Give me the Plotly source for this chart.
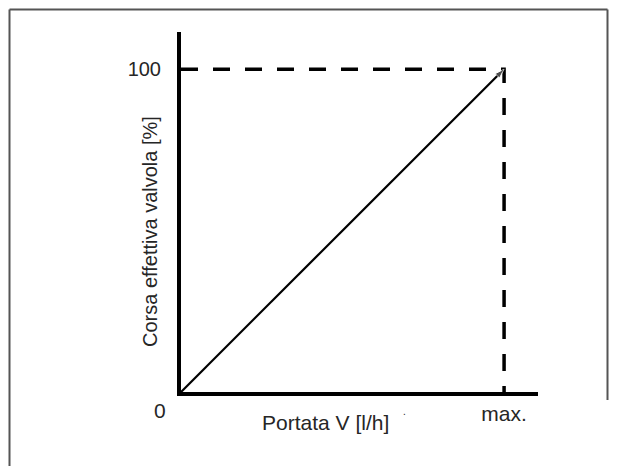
import plotly.graph_objects as go

# data
flow_x = [0, 1]            # portata (0 .. max)
stroke_y = [0, 100]        # corsa effettiva valvola [%]
ref_x = [0, 1, 1]          # dashed reference lines
ref_y = [100, 100, 0]
x_tickvals = [1]
x_ticktext = ["max."]
y_tickvals = [100]
y_ticktext = ["100"]

W, H = 618, 466
L, R, T, B = 181, 80, 32, 74
pw = W - L - R
ph = H - T - B

def px(xp):
    return (xp - L) / pw

def py(yp):
    return (H - B - yp) / ph

FONT = "Liberation Sans, Arial, sans-serif"
TXT = "#262626"

fig = go.Figure()
fig.add_trace(go.Scatter(
    x=ref_x, y=ref_y, mode="lines",
    line=dict(color="black", width=3.5, dash="17px,15px"),
    hoverinfo="skip", showlegend=False, cliponaxis=False))
fig.add_trace(go.Scatter(
    x=flow_x, y=stroke_y, mode="lines+markers",
    line=dict(color="black", width=2.2),
    marker=dict(symbol="arrow", angleref="previous", size=[0, 10], color="black"),
    hoverinfo="skip", showlegend=False, cliponaxis=False))

fig.update_xaxes(range=[0, 1.105], showgrid=False, zeroline=False,
                 showline=True, linecolor="black", linewidth=4,
                 tickvals=x_tickvals, ticktext=x_ticktext, ticks="",
                 tickfont=dict(family=FONT, size=21, color=TXT),
                 ticklabelstandoff=0, fixedrange=True)
fig.update_yaxes(range=[0, 111.5], showgrid=False, zeroline=False,
                 showline=True, linecolor="black", linewidth=4,
                 tickvals=y_tickvals, ticktext=y_ticktext, ticks="",
                 tickfont=dict(family=FONT, size=20, color=TXT),
                 ticklabelstandoff=12, fixedrange=True)

ann = [
    dict(text="Portata V [l/h]", x=px(325), y=py(423), xref="paper", yref="paper",
         showarrow=False, xanchor="center", yanchor="middle",
         font=dict(family=FONT, size=21, color=TXT)),
    dict(text="Corsa effettiva valvola [%]", x=px(150), y=py(232), xref="paper", yref="paper",
         showarrow=False, xanchor="center", yanchor="middle", textangle=-90,
         font=dict(family=FONT, size=20, color=TXT)),
    dict(text="0", x=px(160), y=py(410), xref="paper", yref="paper",
         showarrow=False, xanchor="center", yanchor="middle",
         font=dict(family=FONT, size=21, color=TXT)),
    dict(text=".", x=px(404), y=py(411), xref="paper", yref="paper",
         showarrow=False, xanchor="center", yanchor="middle",
         font=dict(family=FONT, size=10, color=TXT)),
]

shapes = [
    dict(type="line", xref="paper", yref="paper", x0=px(9.5), x1=px(9.5), y0=py(9.5), y1=py(470),
         line=dict(color="#555555", width=2)),
    dict(type="line", xref="paper", yref="paper", x0=px(9.5), x1=px(607.5), y0=py(9.5), y1=py(9.5),
         line=dict(color="#555555", width=2)),
    dict(type="line", xref="paper", yref="paper", x0=px(607.5), x1=px(607.5), y0=py(9.5), y1=py(400),
         line=dict(color="#555555", width=2)),
]

fig.update_layout(width=W, height=H, margin=dict(l=L, r=R, t=T, b=B),
                  paper_bgcolor="white", plot_bgcolor="white",
                  annotations=ann, shapes=shapes, showlegend=False)

fig.write_html("out.html", config={"displayModeBar": False},
               post_script="document.body.style.margin='0';document.body.style.overflow='hidden';")
